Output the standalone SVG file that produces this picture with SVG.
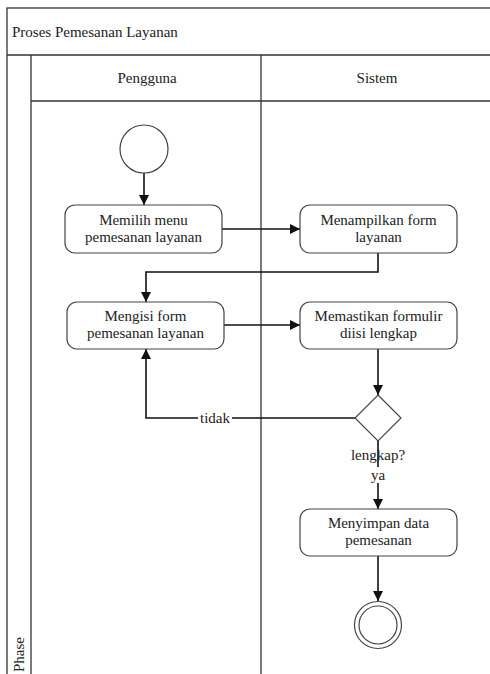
<svg xmlns="http://www.w3.org/2000/svg" width="490" height="674" viewBox="0 0 490 674">
<style>
  text { font-family: "Liberation Serif", "DejaVu Serif", serif; font-size: 15px; fill: #222; }
  .c { text-anchor: middle; }
  .lane { fill: none; stroke: #333; stroke-width: 1.3; }
  .box { fill: #fff; stroke: #444; stroke-width: 1.2; }
  .edge { fill: none; stroke: #111; stroke-width: 1.6; }
  .lbl { fill: #fff; }
</style>
<defs>
  <marker id="arr" viewBox="0 0 10 10" refX="10" refY="5" markerWidth="10" markerHeight="10" markerUnits="userSpaceOnUse" orient="auto">
    <path d="M0,0 L10,5 L0,10 z" fill="#111"/>
  </marker>
</defs>
<rect width="490" height="674" fill="#fff"/>
<g id="pool">
  <rect class="lane" x="7" y="8" width="500" height="680"/>
  <line class="lane" x1="7" y1="55" x2="495" y2="55"/>
  <line class="lane" x1="31" y1="55" x2="31" y2="680"/>
  <line class="lane" x1="31" y1="101" x2="495" y2="101"/>
  <line class="lane" x1="261" y1="55" x2="261" y2="680"/>
  <text x="12" y="37">Proses Pemesanan Layanan</text>
  <text class="c" x="147" y="83">Pengguna</text>
  <text class="c" x="377" y="83">Sistem</text>
  <text x="0" y="0" transform="translate(24 672) rotate(-90)">Phase</text>
</g>
<g id="edges">
  <line class="edge" x1="144" y1="173" x2="144" y2="205" marker-end="url(#arr)"/>
  <line class="edge" x1="222" y1="229" x2="300" y2="229" marker-end="url(#arr)"/>
  <polyline class="edge" points="378,253 378,272 146,272 146,302" marker-end="url(#arr)"/>
  <line class="edge" x1="224" y1="325" x2="300" y2="325" marker-end="url(#arr)"/>
  <line class="edge" x1="378" y1="349" x2="378" y2="395" marker-end="url(#arr)"/>
  <polyline class="edge" points="355,418 146,418 146,349" marker-end="url(#arr)"/>
  <line class="edge" x1="378" y1="441" x2="378" y2="509" marker-end="url(#arr)"/>
  <line class="edge" x1="378" y1="556" x2="378" y2="601" marker-end="url(#arr)"/>
  <rect class="lbl" x="198" y="410" width="34" height="16"/>
  <text class="c" x="215" y="423">tidak</text>
  <rect class="lbl" x="369" y="467" width="18" height="16"/>
  <text class="c" x="378" y="480">ya</text>
</g>
<g id="start">
  <circle cx="144" cy="149" r="24" class="box"/>
</g>
<g id="memilih">
  <rect class="box" x="65" y="205" width="157" height="48" rx="10"/>
  <text class="c" x="143.5" y="225">Memilih menu</text>
  <text class="c" x="143.5" y="242">pemesanan layanan</text>
</g>
<g id="menampilkan">
  <rect class="box" x="300" y="205" width="157" height="48" rx="10"/>
  <text class="c" x="378.5" y="225">Menampilkan form</text>
  <text class="c" x="378.5" y="242">layanan</text>
</g>
<g id="mengisi">
  <rect class="box" x="67" y="302" width="157" height="47" rx="10"/>
  <text class="c" x="145.5" y="321">Mengisi form</text>
  <text class="c" x="145.5" y="338">pemesanan layanan</text>
</g>
<g id="memastikan">
  <rect class="box" x="300" y="302" width="157" height="47" rx="10"/>
  <text class="c" x="378.5" y="321">Memastikan formulir</text>
  <text class="c" x="378.5" y="338">diisi lengkap</text>
</g>
<g id="decision">
  <polygon class="box" points="378,395 401,418 378,441 355,418"/>
  <text class="c" x="378" y="460">lengkap?</text>
</g>
<g id="menyimpan">
  <rect class="box" x="300" y="509" width="157" height="47" rx="10"/>
  <text class="c" x="378.5" y="528">Menyimpan data</text>
  <text class="c" x="378.5" y="545">pemesanan</text>
</g>
<g id="end">
  <circle cx="378" cy="625" r="23.5" class="box"/>
  <circle cx="378" cy="625" r="19" class="box"/>
</g>
</svg>
